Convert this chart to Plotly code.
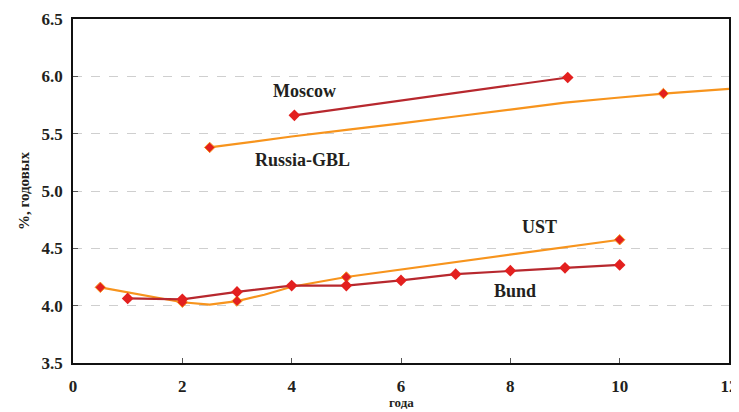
import plotly.graph_objects as go

# Russia-GBL curve
rus_x = [2.5, 4, 6, 8, 9, 10.8, 12]
rus_y = [5.38, 5.475, 5.59, 5.71, 5.77, 5.85, 5.89]
rus_mx = [2.5, 10.8]
rus_my = [5.38, 5.85]

# Moscow
mos_x = [4.05, 9.05]
mos_y = [5.66, 5.99]

# UST curve
ust_x = [0.5, 2, 2.5, 3, 3.5, 4, 5, 6, 7, 8, 9, 10]
ust_y = [4.16, 4.03, 4.01, 4.04, 4.095, 4.165, 4.25, 4.315, 4.38, 4.445, 4.51, 4.575]
ust_mx = [0.5, 2, 3, 5, 10]
ust_my = [4.16, 4.03, 4.04, 4.25, 4.575]

# Bund
bund_x = [1, 2, 3, 4, 5, 6, 7, 8, 9, 10]
bund_y = [4.063, 4.055, 4.12, 4.175, 4.175, 4.22, 4.275, 4.305, 4.33, 4.355]

labels = ["Moscow", "Russia-GBL", "UST", "Bund"]
label_x = [4.24, 4.2, 8.53, 8.09]
label_y = [5.876, 5.268, 4.687, 4.124]

x_ticks = [0, 2, 4, 6, 8, 10, 12]
y_ticks = [3.5, 4.0, 4.5, 5.0, 5.5, 6.0, 6.5]
x_title = "года"
y_title = "%, годовых"

ORANGE = "#F7941D"
DARKRED = "#B7282E"
RED = "#E3201F"
FONT = "'Liberation Serif', 'Times New Roman', Times, serif"

fig = go.Figure()
fig.add_trace(go.Scatter(x=rus_x, y=rus_y, mode="lines", line=dict(color=ORANGE, width=2.2, shape="spline", smoothing=0.4), hoverinfo="skip"))
fig.add_trace(go.Scatter(x=rus_mx, y=rus_my, mode="markers",
                         marker=dict(symbol="diamond", size=8, color=RED, line=dict(color=ORANGE, width=1))))
fig.add_trace(go.Scatter(x=mos_x, y=mos_y, mode="lines+markers", line=dict(color=DARKRED, width=2.2),
                         marker=dict(symbol="diamond", size=9, color=RED, line=dict(color=RED, width=0))))
fig.add_trace(go.Scatter(x=ust_x, y=ust_y, mode="lines", line=dict(color=ORANGE, width=2.2), hoverinfo="skip"))
fig.add_trace(go.Scatter(x=ust_mx, y=ust_my, mode="markers",
                         marker=dict(symbol="diamond", size=8, color=RED, line=dict(color=ORANGE, width=1))))
fig.add_trace(go.Scatter(x=bund_x, y=bund_y, mode="lines+markers", line=dict(color=DARKRED, width=2.2),
                         marker=dict(symbol="diamond", size=9, color=RED, line=dict(color=RED, width=0))))

for t, ax, ay in zip(labels, label_x, label_y):
    fig.add_annotation(x=ax, y=ay, text=t, showarrow=False,
                       font=dict(family=FONT, size=18, color="#231F20", weight="bold"))

# x-axis title as annotation near bottom edge
fig.add_annotation(x=0.5, y=-0.1145, xref="paper", yref="paper", text=x_title, showarrow=False,
                   yanchor="middle", font=dict(family=FONT, size=13, color="#231F20", weight="bold"))

fig.update_layout(
    width=731, height=404,
    margin=dict(l=65, r=9.5, t=10.5, b=48.5, autoexpand=False),
    paper_bgcolor="white", plot_bgcolor="white",
    showlegend=False,
    font=dict(family=FONT, size=17, color="#231F20", weight="bold"),
)
fig.update_xaxes(range=[0, 12], tickvals=x_ticks, ticktext=[str(v) for v in x_ticks],
                 showgrid=False, zeroline=False, showline=True, linecolor="#111111", linewidth=1.5,
                 mirror=True, ticks="inside", ticklen=5, tickcolor="#555555", automargin=False,
                 ticklabelstandoff=7, ticklabeloverflow="allow",
                 tickfont=dict(family=FONT, size=17, weight="bold"))
fig.update_yaxes(range=[3.5, 6.5], tickvals=y_ticks, ticktext=["%.1f" % v for v in y_ticks],
                 showgrid=True, gridcolor="#cfcfcf", griddash="dash", gridwidth=1,
                 zeroline=False, showline=True, linecolor="#111111", linewidth=1.5,
                 mirror=True, ticks="inside", ticklen=5, tickcolor="#555555", automargin=False,
                 ticklabelstandoff=5,
                 title=dict(text=y_title, standoff=8, font=dict(family=FONT, size=15, weight="bold")),
                 tickfont=dict(family=FONT, size=17, weight="bold"))

fig.write_html("out.html")
